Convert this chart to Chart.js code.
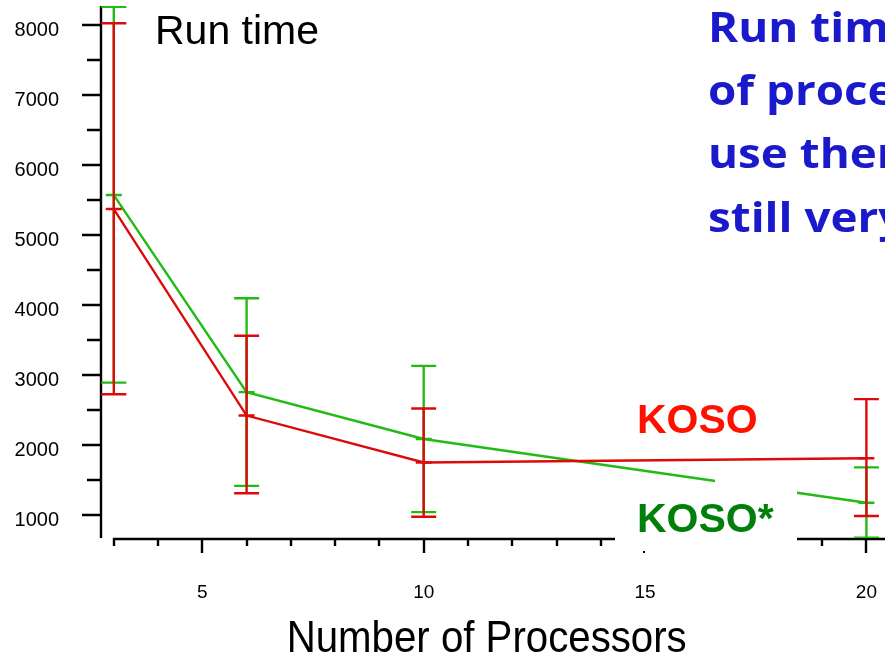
<!DOCTYPE html>
<html>
<head>
<meta charset="utf-8">
<title>Run time vs. number of processors</title>
<script src="https://cdn.jsdelivr.net/npm/chart.js@4/dist/chart.umd.min.js"></script>
<style>
  html, body { margin: 0; padding: 0; background: #fff; overflow: hidden; }
  #wrap { width: 885px; height: 657px; position: relative; }
</style>
</head>
<body>
<div id="wrap"><canvas id="c" width="885" height="657"></canvas></div>
<script>
// Processor counts that were measured
const processors = [3, 6, 10, 20];

// KOSO: mean run time and the low / high ends of its error bars
const kosoMean = [5370, 2420, 1750, 1810];
const kosoLow  = [2725, 1310, 975, 985];
const kosoHigh = [8025, 3560, 2520, 2655];

// KOSO*: mean run time and the low / high ends of its error bars
const kosoStarMean = [5570, 2755, 2085, 1175];
const kosoStarLow  = [2890, 1415, 1040, 676];
const kosoStarHigh = [8260, 4095, 3130, 1680];

// Axis ticks
const yTickValues = [1000, 1500, 2000, 2500, 3000, 3500, 4000, 4500, 5000, 5500, 6000, 6500, 7000, 7500, 8000];
const yTickLabels = ['1000', '', '2000', '', '3000', '', '4000', '', '5000', '', '6000', '', '7000', '', '8000'];
const xTickValues = [3, 4, 5, 6, 7, 8, 9, 10, 11, 12, 13, 14, 15, 16, 17, 18, 19, 20];
const xLabelValues = [5, 10, 15, 20];
const xLabelTexts = ['5', '10', '15', '20'];

// Side notes
const titleText = 'Run time';
const xAxisTitle = 'Number of Processors';
const noteLines = ['Run time', 'of processors', 'use them', 'still very'];

const RED = '#dd0a0a';
const GREEN = '#22bb14';
const SANS = '"Liberation Sans", Arial, sans-serif';
const LINE_W = 2.4;

const toPoints = (ys) => processors.map((p, i) => ({ x: p, y: ys[i] }));

// Vertical error bars with caps, plus a short dash at the mean
const errorBars = {
  id: 'errorBars',
  afterDatasetDraw(chart, args) {
    const ds = chart.data.datasets[args.index];
    if (!ds.errLow) return;
    const { ctx, chartArea, scales: { x, y } } = chart;
    ctx.save();
    ctx.beginPath();
    ctx.rect(chartArea.left, chartArea.top, chartArea.right - chartArea.left, chartArea.bottom - chartArea.top);
    ctx.clip();
    ctx.strokeStyle = ds.borderColor;
    ctx.lineWidth = LINE_W;
    ds.data.forEach((pt, i) => {
      const px = x.getPixelForValue(pt.x);
      const pm = y.getPixelForValue(pt.y);
      const pl = y.getPixelForValue(ds.errLow[i]);
      const ph = y.getPixelForValue(ds.errHigh[i]);
      ctx.beginPath();
      ctx.moveTo(px, pl); ctx.lineTo(px, ph);
      ctx.moveTo(px - 12.5, pl); ctx.lineTo(px + 12.5, pl);
      ctx.moveTo(px - 12.5, ph); ctx.lineTo(px + 12.5, ph);
      ctx.moveTo(px - 8, pm); ctx.lineTo(px + 8, pm);
      ctx.stroke();
    });
    ctx.restore();
  }
};

// Hand-drawn axes: detached y and x axis lines with long/short ticks
const axes = {
  id: 'axes',
  beforeDatasetsDraw(chart) {
    const { ctx, chartArea, scales: { x, y } } = chart;
    const axisX = chartArea.left;
    const axisY = chartArea.bottom + 1;
    ctx.save();
    ctx.strokeStyle = '#000';
    ctx.fillStyle = '#000';
    ctx.lineWidth = 2.4;

    // y axis
    ctx.beginPath();
    ctx.moveTo(axisX, chartArea.top);
    ctx.lineTo(axisX, chartArea.bottom);
    yTickValues.forEach((v, i) => {
      const py = Math.round(y.getPixelForValue(v));
      const len = yTickLabels[i] ? 19 : 14;
      ctx.moveTo(axisX - len, py);
      ctx.lineTo(axisX, py);
    });
    ctx.stroke();

    ctx.font = '20px ' + SANS;
    ctx.textAlign = 'right';
    ctx.textBaseline = 'alphabetic';
    yTickValues.forEach((v, i) => {
      if (!yTickLabels[i]) return;
      const py = y.getPixelForValue(v);
      ctx.fillText(yTickLabels[i], 59, py + 11);
    });

    // x axis
    ctx.beginPath();
    ctx.moveTo(x.getPixelForValue(xTickValues[0]) - 1, axisY);
    ctx.lineTo(chart.width, axisY);
    xTickValues.forEach((v) => {
      const px = Math.round(x.getPixelForValue(v));
      const len = xLabelValues.includes(v) ? 14 : 7;
      ctx.moveTo(px, axisY);
      ctx.lineTo(px, axisY + len);
    });
    ctx.stroke();

    ctx.font = '19px ' + SANS;
    ctx.textAlign = 'center';
    xLabelValues.forEach((v, i) => {
      ctx.fillText(xLabelTexts[i], x.getPixelForValue(v), 598);
    });
    ctx.restore();
  }
};

// Titles, series labels and the side note
const annotations = {
  id: 'annotations',
  afterDraw(chart) {
    const { ctx } = chart;
    ctx.save();

    // white backing of the KOSO* label
    ctx.fillStyle = '#fff';
    ctx.fillRect(615, 484, 182, 70);
    ctx.fillRect(715, 469, 82, 20);
    ctx.fillStyle = '#000';
    ctx.fillRect(643, 551, 2, 2);

    ctx.textBaseline = 'alphabetic';
    ctx.textAlign = 'left';

    ctx.font = 'bold 41px ' + SANS;
    ctx.fillStyle = '#ff1100';
    ctx.fillText('KOSO', 637, 433);
    ctx.fillStyle = '#00800a';
    ctx.fillText('KOSO*', 637, 532);

    ctx.font = '41px ' + SANS;
    ctx.fillStyle = '#000';
    ctx.fillText(titleText, 155, 44);

    // axis title, slightly condensed
    ctx.save();
    ctx.translate(486.7, 651.5);
    ctx.scale(0.914, 1);
    ctx.font = '44px ' + SANS;
    ctx.textAlign = 'center';
    ctx.fillText(xAxisTitle, 0, 0);
    ctx.restore();

    // side note, slightly widened
    ctx.save();
    ctx.translate(708, 0);
    ctx.scale(1.09, 1);
    ctx.font = 'bold 42px "Open Sans", sans-serif';
    ctx.fillStyle = '#1a1acc';
    const baselines = [41.7, 105, 168.3, 231.7];
    noteLines.forEach((t, i) => ctx.fillText(t, 0, baselines[i]));
    ctx.restore();

    ctx.restore();
  }
};

new Chart(document.getElementById('c'), {
  type: 'scatter',
  data: {
    datasets: [
      {
        label: 'KOSO',
        data: toPoints(kosoMean),
        errLow: kosoLow,
        errHigh: kosoHigh,
        borderColor: RED,
        backgroundColor: RED,
        borderWidth: LINE_W,
        showLine: true,
        pointRadius: 0,
        tension: 0
      },
      {
        label: 'KOSO*',
        data: toPoints(kosoStarMean),
        errLow: kosoStarLow,
        errHigh: kosoStarHigh,
        borderColor: GREEN,
        backgroundColor: GREEN,
        borderWidth: LINE_W,
        showLine: true,
        pointRadius: 0,
        tension: 0
      }
    ]
  },
  options: {
    responsive: false,
    animation: false,
    events: [],
    layout: { padding: { left: 101, right: 0, top: 6, bottom: 119 } },
    plugins: { legend: { display: false }, tooltip: { enabled: false }, title: { display: false } },
    scales: {
      x: { type: 'linear', min: 2.711, max: 20.42, display: false },
      y: { type: 'linear', min: 671, max: 8271, display: false }
    }
  },
  plugins: [axes, errorBars, annotations]
});
</script>
</body>
</html>
